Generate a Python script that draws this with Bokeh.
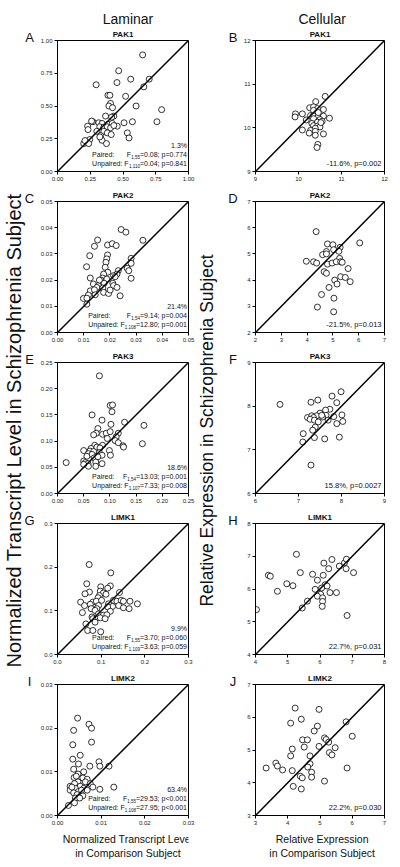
import math
from bokeh.plotting import figure
from bokeh.layouts import row, column
from bokeh.models import Range1d, Label, Slope, FixedTicker, CustomJSTickFormatter, Title
from bokeh.embed import file_html
from bokeh.resources import INLINE

FONT = "Liberation Sans"

# ---------------- data ----------------
column_titles = ["Laminar", "Cellular"]
genes = ["PAK1", "PAK2", "PAK3", "LIMK1", "LIMK2"]
letters_lam = ["A", "C", "E", "G", "I"]
letters_cel = ["B", "D", "F", "H", "J"]

pak1_lam_x = [0.65,0.467,0.559,0.70,0.295,0.454,0.659,0.385,0.40,0.52,0.405,0.392,0.42,0.60,0.795,0.367,0.43,0.413,0.508,0.572,0.759,0.27,0.26,0.315,0.34,0.385,0.418,0.323,0.354,0.38,0.405,0.456,0.43,0.23,0.233,0.30,0.354,0.38,0.41,0.33,0.533,0.546,0.34,0.323,0.246,0.22,0.20,0.238,0.374,0.21]
pak1_lam_y = [0.89,0.769,0.705,0.705,0.662,0.679,0.646,0.582,0.582,0.574,0.52,0.50,0.487,0.50,0.472,0.423,0.423,0.415,0.372,0.38,0.38,0.38,0.385,0.372,0.367,0.36,0.367,0.341,0.338,0.341,0.333,0.346,0.351,0.346,0.32,0.307,0.307,0.295,0.282,0.274,0.295,0.256,0.238,0.264,0.244,0.223,0.213,0.213,0.213,0.236]

pak1_cel_x = [10.62,10.40,10.26,10.35,10.44,10.58,9.93,9.92,10.09,10.28,10.35,10.45,10.58,10.72,10.18,10.35,10.50,10.55,10.44,10.31,10.35,10.44,10.50,10.39,10.09,10.28,10.39,10.25,10.58,10.39,10.45,10.43,10.35,10.46,10.52]
pak1_cel_y = [10.72,10.60,10.46,10.48,10.44,10.42,10.32,10.25,10.32,10.28,10.28,10.25,10.27,10.22,10.18,10.21,10.19,10.15,10.13,10.10,10.05,10.04,10.02,9.99,9.95,9.94,9.92,9.88,9.86,9.83,9.62,9.55,10.40,10.35,10.12]

pak2_lam_x = [0.0243,0.0261,0.0326,0.0153,0.0141,0.0191,0.0209,0.0224,0.0123,0.0191,0.0188,0.0281,0.0185,0.0281,0.0111,0.0182,0.0192,0.0176,0.0232,0.0266,0.0272,0.0227,0.0125,0.0172,0.0166,0.0188,0.0214,0.0220,0.0281,0.0137,0.0156,0.0178,0.0211,0.0150,0.0173,0.0214,0.0227,0.0125,0.0141,0.0176,0.0195,0.0201,0.0239,0.0144,0.0118,0.0099,0.0112,0.0112,0.0160]
pak2_lam_y = [0.0393,0.0383,0.0352,0.0353,0.0329,0.0334,0.0339,0.0332,0.0293,0.0296,0.0281,0.0283,0.0268,0.0264,0.0251,0.0249,0.0230,0.0223,0.0236,0.0245,0.0236,0.0223,0.0208,0.0208,0.0200,0.0204,0.0217,0.0213,0.0207,0.0185,0.0179,0.0188,0.0188,0.0172,0.0170,0.0179,0.0172,0.0159,0.0163,0.0153,0.0149,0.0162,0.0140,0.0144,0.0143,0.0130,0.0131,0.0108,0.0200]

pak2_cel_x = [4.35,6.04,4.79,5.00,5.28,5.03,4.75,5.23,4.60,4.75,5.26,3.97,4.25,4.37,4.79,4.97,5.13,5.30,5.36,5.59,4.66,4.75,5.07,5.30,5.48,5.67,5.16,4.85,4.56,5.04,4.40,5.03]
pak2_cel_y = [5.85,5.42,5.38,5.35,5.25,5.16,5.09,5.10,4.97,5.00,4.83,4.72,4.70,4.65,4.61,4.65,4.70,4.70,4.68,4.44,4.32,4.26,4.00,4.13,4.10,3.94,3.85,3.72,3.45,3.31,2.97,2.79]

pak3_lam_x = [0.080,0.1005,0.105,0.104,0.066,0.085,0.165,0.128,0.102,0.077,0.074,0.069,0.086,0.093,0.1005,0.116,0.112,0.095,0.110,0.116,0.125,0.126,0.162,0.086,0.071,0.064,0.075,0.081,0.050,0.062,0.069,0.080,0.099,0.059,0.066,0.085,0.101,0.056,0.070,0.077,0.050,0.053,0.058,0.059,0.0165,0.050,0.073,0.085,0.073]
pak3_lam_y = [0.2245,0.168,0.169,0.156,0.150,0.140,0.130,0.136,0.132,0.124,0.115,0.112,0.113,0.115,0.118,0.115,0.108,0.105,0.101,0.097,0.091,0.0886,0.095,0.092,0.092,0.086,0.0886,0.087,0.082,0.081,0.080,0.078,0.082,0.076,0.0746,0.073,0.073,0.071,0.068,0.070,0.062,0.059,0.057,0.052,0.059,0.0555,0.060,0.057,0.052]

pak3_cel_x = [6.57,7.99,7.78,7.45,7.29,7.89,7.73,7.63,7.50,7.64,7.82,7.42,8.01,7.21,7.31,7.35,7.56,7.27,7.37,7.46,7.69,8.03,7.89,7.39,7.33,7.11,7.37,7.61,7.95,7.10,7.29,7.54]
pak3_cel_y = [8.04,8.33,8.23,8.14,8.09,8.08,7.93,7.91,7.84,7.79,7.76,7.78,7.80,7.74,7.78,7.74,7.75,7.70,7.68,7.64,7.68,7.65,7.60,7.52,7.45,7.37,7.28,7.25,7.29,7.18,6.65,7.79]

limk1_lam_x = [0.0725,0.122,0.067,0.099,0.121,0.115,0.073,0.063,0.098,0.105,0.142,0.096,0.111,0.093,0.053,0.062,0.081,0.089,0.101,0.128,0.136,0.146,0.151,0.166,0.183,0.075,0.094,0.117,0.126,0.140,0.151,0.164,0.077,0.090,0.115,0.057,0.086,0.121,0.094,0.079,0.081,0.105,0.113,0.098,0.109,0.086,0.065,0.069,0.081,0.099]
limk1_lam_y = [0.206,0.187,0.162,0.155,0.157,0.152,0.143,0.139,0.145,0.141,0.142,0.135,0.138,0.130,0.120,0.112,0.120,0.122,0.124,0.124,0.122,0.124,0.122,0.122,0.116,0.115,0.112,0.116,0.110,0.112,0.107,0.105,0.105,0.105,0.109,0.096,0.101,0.099,0.093,0.086,0.082,0.090,0.091,0.084,0.082,0.074,0.070,0.055,0.055,0.052]

limk1_cel_x = [5.27,4.40,4.46,5.39,5.77,6.10,6.12,6.37,6.27,6.60,6.76,6.82,6.81,7.04,5.92,4.97,5.16,4.68,6.16,6.22,5.85,6.05,6.31,6.51,6.02,5.92,6.08,5.61,6.08,5.45,6.07,4.03,6.84]
limk1_cel_y = [7.06,6.42,6.39,6.50,6.45,6.42,6.79,6.90,6.62,6.70,6.80,6.91,6.62,6.50,6.27,6.16,6.10,5.93,6.13,6.09,5.99,6.03,5.89,5.89,5.84,5.78,5.73,5.63,5.62,5.42,5.47,5.37,5.19]

limk2_lam_x = [0.0046,0.0072,0.0078,0.0037,0.0078,0.0035,0.0052,0.0035,0.0048,0.0095,0.0074,0.0097,0.0118,0.0037,0.0060,0.0047,0.0038,0.0043,0.0058,0.0068,0.0047,0.0064,0.0075,0.0039,0.0029,0.0052,0.0081,0.0129,0.0097,0.0029,0.0041,0.0060,0.0068,0.0048,0.0037,0.0045,0.0058,0.0041,0.0051,0.0039,0.0025,0.0055,0.0033]
limk2_lam_y = [0.0223,0.0209,0.0200,0.0195,0.0168,0.0162,0.0138,0.0129,0.0118,0.0123,0.0113,0.0113,0.0113,0.0106,0.0100,0.0095,0.0087,0.0090,0.0086,0.0083,0.0077,0.0077,0.0073,0.0073,0.0067,0.0067,0.0065,0.0065,0.0060,0.0058,0.0062,0.0062,0.0058,0.0055,0.0052,0.0048,0.0045,0.0040,0.0040,0.0029,0.0023,0.0058,0.0065]

limk2_cel_x = [4.23,4.97,4.42,4.09,5.81,4.92,4.82,6.00,5.14,5.19,5.27,4.46,4.61,4.51,4.97,4.14,5.47,5.29,5.37,4.09,4.69,3.63,3.68,3.33,4.69,4.62,3.84,4.14,5.84,4.74,4.39,4.45,4.74,5.14,4.17,4.42]
limk2_cel_y = [6.28,6.24,5.94,5.82,5.86,5.73,5.58,5.42,5.37,5.32,5.24,5.31,5.31,5.09,5.11,5.03,5.07,4.92,4.85,4.82,4.82,4.60,4.51,4.45,4.58,4.48,4.39,4.37,4.45,4.32,4.20,4.15,4.17,4.05,3.89,3.81]

# axis ranges, ticks and tick labels
lam_ranges = [(0, 1.0), (0, 0.05), (0, 0.25), (0, 0.3), (0, 0.03)]
lam_ticks = [[0, 0.25, 0.5, 0.75, 1.0],
             [0, 0.01, 0.02, 0.03, 0.04, 0.05],
             [0, 0.05, 0.10, 0.15, 0.20, 0.25],
             [0, 0.1, 0.2, 0.3],
             [0, 0.01, 0.02, 0.03]]
lam_tick_labels = [["0.00", "0.25", "0.50", "0.75", "1.00"],
                   ["0.00", "0.01", "0.02", "0.03", "0.04", "0.05"],
                   ["0.00", "0.05", "0.10", "0.15", "0.20", "0.25"],
                   ["0.0", "0.1", "0.2", "0.3"],
                   ["0.00", "0.01", "0.02", "0.03"]]
cel_ranges = [(9, 12), (2, 7), (6, 9), (4, 8), (3, 7)]
cel_ticks = [[9, 10, 11, 12], [2, 3, 4, 5, 6, 7], [6, 7, 8, 9], [4, 5, 6, 7, 8], [3, 4, 5, 6, 7]]
cel_tick_labels = [["9", "10", "11", "12"], ["2", "3", "4", "5", "6", "7"], ["6", "7", "8", "9"],
                   ["4", "5", "6", "7", "8"], ["3", "4", "5", "6", "7"]]

# statistics text
lam_pct = ["1.3%", "21.4%", "18.6%", "9.9%", "63.4%"]
lam_paired_df = ["1,55", "1,54", "1,54", "1,55", "1,55"]
lam_paired_txt = ["=0.08; p=0.774", "=9.14; p=0.004", "=13.03; p=0.001", "=3.70; p=0.060", "=29.53; p<0.001"]
lam_unpaired_df = ["1,110", "1,108", "1,107", "1,109", "1,108"]
lam_unpaired_txt = ["=0.04; p=0.841", "=12.80; p=0.001", "=7.33; p=0.008", "=3.63; p=0.059", "=27.95; p<0.001"]
cel_stat = ["-11.6%, p=0.002", "-21.5%, p=0.013", "15.8%, p=0.0027", "22.7%, p=0.031", "22.2%, p=0.030"]

y_label_lam = "Normalized Transcript Level in Schizophrenia Subject"
y_label_cel = "Relative Expression in Schizophrenia Subject"
x_label_lam = ["Normalized Transcript Level", "in Comparison Subject"]
x_label_cel = ["Relative Expression", "in Comparison Subject"]

lam_x = [pak1_lam_x, pak2_lam_x, pak3_lam_x, limk1_lam_x, limk2_lam_x]
lam_y = [pak1_lam_y, pak2_lam_y, pak3_lam_y, limk1_lam_y, limk2_lam_y]
cel_x = [pak1_cel_x, pak2_cel_x, pak3_cel_x, limk1_cel_x, limk2_cel_x]
cel_y = [pak1_cel_y, pak2_cel_y, pak3_cel_y, limk1_cel_y, limk2_cel_y]

# ---------------- layout constants (pixels) ----------------
FRAME = 131
LEFT_W, LEFT_BL, LEFT_BR = 159, 20, 8
RIGHT_W, RIGHT_BL, RIGHT_BR = 152, 13, 8
STRIP_L_W, STRIP_M_W = 37, 44
HEADER_H, FOOT_H = 26, 30
PANEL_TOP = 14
PANEL_BOT = [16, 16, 16, 16, 14]

AW = {'0': .556, '1': .556, '2': .556, '3': .556, '4': .556, '5': .556, '6': .556, '7': .556,
      '8': .556, '9': .556, '.': .278, ',': .278, ';': .278, ':': .278, '=': .584, '<': .584,
      '%': .889, '-': .333, ' ': .278, 'p': .556, 'F': .611, 'P': .667, 'a': .556, 'i': .222,
      'r': .333, 'e': .556, 'd': .556, 'U': .722, 'n': .556}


def tw(s, size):
    return sum(AW.get(c, .556) for c in s) * size


def lab(p, x, y, text, size, xo=0, yo=0, align="center", baseline="middle", bold=False, angle=0):
    p.add_layout(Label(x=x, y=y, x_offset=xo, y_offset=yo, text=text, text_font=FONT,
                       text_font_size=f"{size}px", text_align=align, text_baseline=baseline,
                       text_font_style="bold" if bold else "normal", text_color="#111111",
                       angle=angle))


def blank(w, h):
    """A figure with no axes whose data space equals its pixels (y measured from top)."""
    p = figure(width=w, height=h, x_range=Range1d(0, w), y_range=Range1d(h, 0),
               output_backend="svg", toolbar_location=None, title=None,
               x_axis_location=None, y_axis_location=None, min_border=0)
    p.outline_line_color = None
    p.grid.visible = False
    p.background_fill_color = "white"
    p.border_fill_color = "white"
    return p


def panel(i, side):
    if side == 0:
        xs, ys, rng = lam_x[i], lam_y[i], lam_ranges[i]
        ticks, tlabels = lam_ticks[i], lam_tick_labels[i]
        w, bl, br = LEFT_W, LEFT_BL, LEFT_BR
    else:
        xs, ys, rng = cel_x[i], cel_y[i], cel_ranges[i]
        ticks, tlabels = cel_ticks[i], cel_tick_labels[i]
        w, bl, br = RIGHT_W, RIGHT_BL, RIGHT_BR
    x0, x1 = rng
    h = PANEL_TOP + FRAME + PANEL_BOT[i]
    p = figure(width=w, height=h, x_range=Range1d(x0, x1), y_range=Range1d(x0, x1),
               output_backend="svg", toolbar_location=None, title=None,
               min_border_left=bl, min_border_right=br,
               min_border_top=PANEL_TOP, min_border_bottom=PANEL_BOT[i])
    p.add_layout(Title(text=genes[i], align="center", text_font=FONT, text_font_size="8px",
                       text_font_style="bold", text_color="#111111", standoff=3), "above")
    p.grid.visible = False
    p.background_fill_color = "white"
    p.border_fill_color = "white"
    p.outline_line_color = "black"
    p.outline_line_width = 1
    p.outline_line_alpha = 1
    for ax in (p.xaxis[0], p.yaxis[0]):
        ax.ticker = FixedTicker(ticks=ticks)
        ax.formatter = CustomJSTickFormatter(args=dict(labels=tlabels), code="return labels[index];")
        ax.major_label_text_font = FONT
        ax.major_label_text_font_size = "6px"
        ax.major_label_text_color = "#222222"
        ax.major_tick_out = 3
        ax.major_tick_in = 0
        ax.minor_tick_out = 0
        ax.minor_tick_in = 0
        ax.major_label_standoff = 2
        ax.axis_line_color = "black"
        ax.major_tick_line_color = "black"
    p.add_layout(Slope(gradient=1, y_intercept=0, line_color="black", line_width=1.5))
    p.scatter(xs, ys, marker="circle", size=6, fill_color="white", line_color="black",
              line_width=0.8)

    if side == 0:
        fs, fsub = 7, 4.5
        R = -1.5
        lab(p, x1, x0, lam_pct[i], fs, xo=R, yo=26, align="right")
        rows = [("Paired:", lam_paired_df[i], lam_paired_txt[i], 17),
                ("Unpaired:", lam_unpaired_df[i], lam_unpaired_txt[i], 8)]
        full_unp = tw("Unpaired: F", fs) + tw(lam_unpaired_df[i], fsub) + tw(lam_unpaired_txt[i], fs)
        left = R - full_unp
        for word, sub, rest, yo in rows:
            rw = tw(rest, fs)
            sw = tw(sub, fsub)
            lab(p, x1, x0, rest, fs, xo=R, yo=yo, align="right")
            lab(p, x1, x0, sub, fsub, xo=R - rw, yo=yo - 2, align="right")
            lab(p, x1, x0, "F", fs, xo=R - rw - sw, yo=yo, align="right")
            lab(p, x1, x0, word, fs, xo=left, yo=yo, align="left")
    else:
        lab(p, x1, x0, cel_stat[i], 7.5, xo=-3, yo=8, align="right")
    return p


def build_column(side):
    w = LEFT_W if side == 0 else RIGHT_W
    fc = (LEFT_BL if side == 0 else RIGHT_BL) + FRAME / 2
    items = []
    head = blank(w, HEADER_H)
    lab(head, fc, 18, column_titles[side], 14)
    items.append(head)
    for i in range(5):
        items.append(panel(i, side))
    foot = blank(w, FOOT_H)
    xl = x_label_lam if side == 0 else x_label_cel
    lab(foot, fc, 9, xl[0], 10.5)
    lab(foot, fc, 23, xl[1], 10.5)
    items.append(foot)
    return column(items)


TOTAL_H = HEADER_H + 5 * (PANEL_TOP + FRAME) + sum(PANEL_BOT) + FOOT_H
# frame tops measured from the top of the page
frame_tops = []
y = HEADER_H
for i in range(5):
    frame_tops.append(y + PANEL_TOP)
    y += PANEL_TOP + FRAME + PANEL_BOT[i]

strip_l = blank(STRIP_L_W, TOTAL_H)
lab(strip_l, 13, 430, y_label_lam, 20, angle=math.pi / 2)
for i in range(5):
    lab(strip_l, 29, frame_tops[i] - 3, letters_lam[i], 13)

strip_m = blank(STRIP_M_W, TOTAL_H)
lab(strip_m, 10, 430, y_label_cel, 17.5, angle=math.pi / 2)
for i in range(5):
    lab(strip_m, 36.5, frame_tops[i] - 3, letters_cel[i], 13)

layout = row(strip_l, build_column(0), strip_m, build_column(1))

open("out.html", "w").write(file_html(layout, INLINE))
